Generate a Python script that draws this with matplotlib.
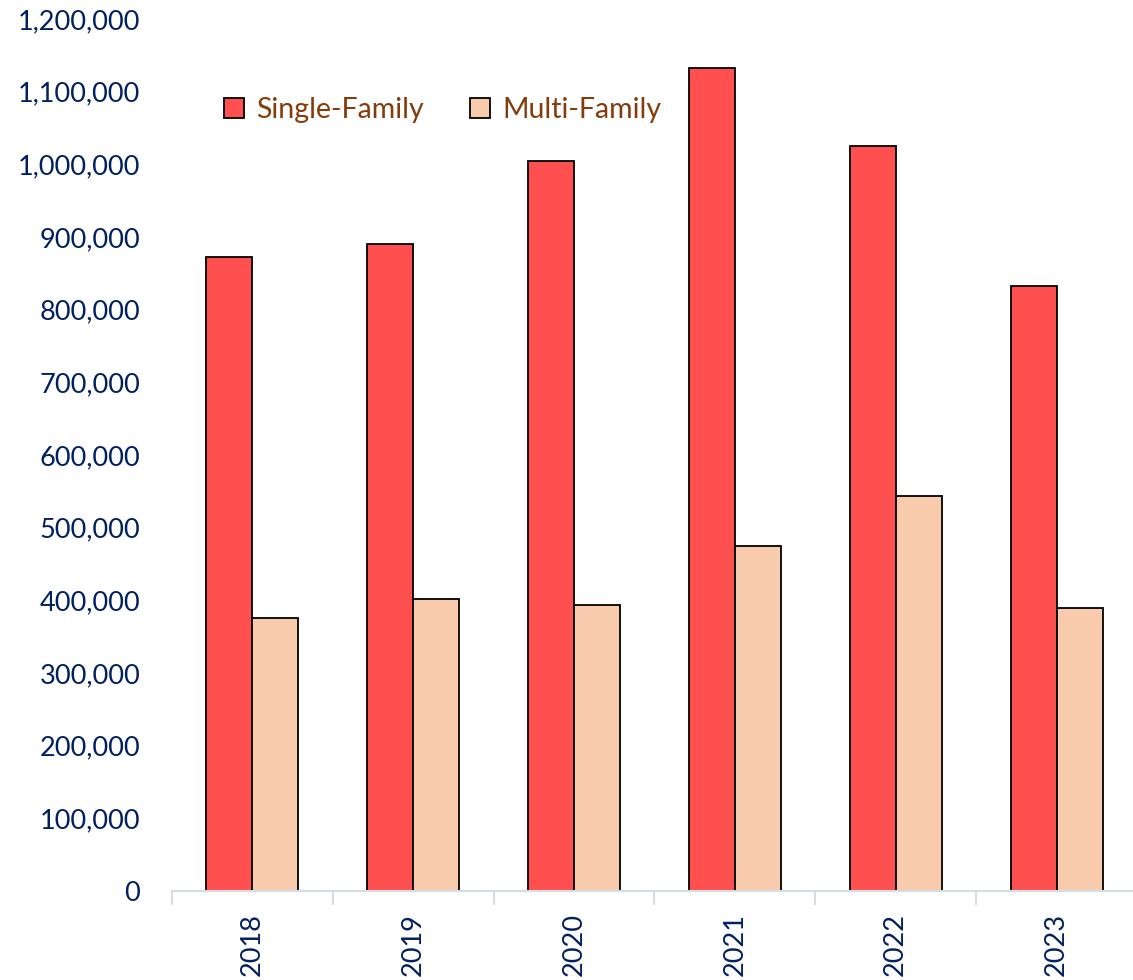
import numpy as np
import matplotlib.pyplot as plt
from matplotlib.ticker import FuncFormatter, FixedLocator

years = ["2018", "2019", "2020", "2021", "2022", "2023"]
single_family = [872000, 890000, 1004000, 1132000, 1025000, 832000]
multi_family = [376000, 402000, 394000, 475000, 543000, 389000]

plt.rcParams['font.family'] = ['Lato', 'DejaVu Sans']

fig = plt.figure(figsize=(11.33, 9.8), dpi=100, facecolor="white")
ax = fig.add_axes([172/1133, 1 - 891/980, (1137-172)/1133, (891-19)/980])

x = np.arange(len(years))
w = 0.286
ax.bar(x - w/2, single_family, w, color="#FF5050", edgecolor="black", lw=1.3, label="Single-Family")
ax.bar(x + w/2, multi_family, w, color="#F8CBAD", edgecolor="black", lw=1.3, label="Multi-Family")

ax.set_xlim(-0.5, len(years) - 0.5)
ax.set_ylim(0, 1200000)
ax.set_yticks(np.arange(0, 1200001, 100000))
ax.yaxis.set_major_formatter(FuncFormatter(lambda v, p: f"{int(v):,}"))
ax.tick_params(axis="y", length=0, pad=23, labelsize=19.5, labelcolor="#002060")

ax.set_xticks(x)
ax.set_xticklabels(years, rotation=90, fontsize=19.5, color="#002060")
ax.tick_params(axis="x", which="major", length=0, pad=16)
ax.xaxis.set_minor_locator(FixedLocator(np.arange(-0.5, len(years), 1)))
ax.tick_params(axis="x", which="minor", length=10, color="#D6DCE5", width=1.5)

for s in ["top", "right", "left"]:
    ax.spines[s].set_visible(False)
ax.spines["bottom"].set_color("#D6DCE5")
ax.spines["bottom"].set_linewidth(1.5)

leg = ax.legend(loc="upper left", bbox_to_anchor=(0.027, 0.94), ncol=2, frameon=False,
                fontsize=20.5, handlelength=0.7, handleheight=0.7, columnspacing=1.6,
                handletextpad=0.45)
for t in leg.get_texts():
    t.set_color("#843C0C")

fig.savefig("out.png", dpi=100)
